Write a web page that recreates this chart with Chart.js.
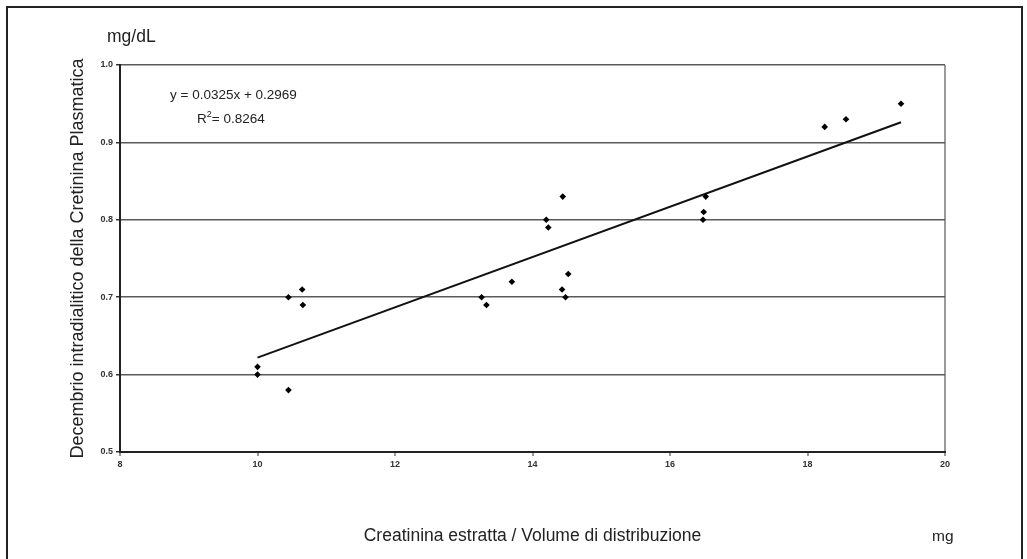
<!DOCTYPE html>
<html>
<head>
<meta charset="utf-8">
<script src="https://cdn.jsdelivr.net/npm/chart.js@4/dist/chart.umd.min.js"></script>
<style>
  html, body { margin: 0; padding: 0; background: #fff; }
  #wrap { position: relative; width: 1027px; height: 559px; overflow: hidden; background: #fff; }
  #frame { position: absolute; left: 6px; top: 6px; width: 1017px; height: 570px; border: 2px solid #222; box-sizing: border-box; }
  canvas { position: absolute; left: 0; top: 0; }
  .lbl { position: absolute; font-family: "Liberation Sans", Arial, sans-serif; color: #222; white-space: nowrap; }
</style>
</head>
<body>
<div id="wrap">
  <div id="frame"></div>
  <canvas id="c" width="1027" height="559"></canvas>
  <div class="lbl" style="left:107px; top:26px; font-size:17.5px;">mg/dL</div>
  <div class="lbl" style="left:170px; top:87px; font-size:13.5px;">y = 0.0325x + 0.2969</div>
  <div class="lbl" style="left:197px; top:109px; font-size:13.5px;">R<sup style="font-size:9px;">2</sup>= 0.8264</div>
  <div class="lbl" style="left:932px; top:527px; font-size:15.5px;">mg</div>
</div>
<script>
// Data
const xValues = [10.00, 10.00, 10.45, 10.65, 10.66, 10.45, 13.26, 13.33, 13.70, 14.20, 14.23, 14.44, 14.43, 14.48, 14.52, 16.48, 16.49, 16.52, 18.25, 18.56, 19.36];
const yValues = [0.61, 0.60, 0.70, 0.71, 0.69, 0.58, 0.70, 0.69, 0.72, 0.80, 0.79, 0.83, 0.71, 0.70, 0.73, 0.80, 0.81, 0.83, 0.92, 0.93, 0.95];
const trendX = [10.00, 19.36];
const trendY = [0.622, 0.926];
const xTicks = [8, 10, 12, 14, 16, 18, 20];
const yTicks = [0.5, 0.6, 0.7, 0.8, 0.9, 1.0];
const xTitle = 'Creatinina estratta / Volume di distribuzione';
const yTitle = 'Decembrio intradialitico della Cretinina Plasmatica';

const points = xValues.map((x, i) => ({ x: x, y: yValues[i] }));
const trend = trendX.map((x, i) => ({ x: x, y: trendY[i] }));

const tickFont = { family: '"Liberation Sans", Arial, sans-serif', size: 9, weight: 'bold' };

new Chart(document.getElementById('c'), {
  type: 'scatter',
  data: {
    datasets: [
      {
        label: 'Dati',
        data: points,
        backgroundColor: '#000',
        borderColor: '#000',
        pointStyle: 'rectRot',
        pointRadius: 3.3,
        pointHoverRadius: 3.3,
        borderWidth: 0
      },
      {
        label: 'Lineare',
        data: trend,
        type: 'line',
        showLine: true,
        borderColor: '#111',
        borderWidth: 2,
        pointRadius: 0,
        fill: false
      }
    ]
  },
  options: {
    responsive: false,
    animation: false,
    events: [],
    layout: { padding: { left: 0, right: 82, top: 65, bottom: 0 } },
    plugins: { legend: { display: false }, tooltip: { enabled: false } },
    scales: {
      x: {
        type: 'linear',
        min: 8, max: 20,
        afterBuildTicks: (s) => { s.ticks = xTicks.map(v => ({ value: v })); },
        afterFit: (s) => { s.height = 107; },
        ticks: { font: tickFont, color: '#333', padding: 3 },
        grid: {
          drawOnChartArea: true,
          color: (ctx) => (ctx.tick && ctx.tick.value === 20 ? '#9a9a9a' : 'rgba(0,0,0,0)'),
          lineWidth: 2,
          tickColor: '#333',
          tickLength: 4,
          tickWidth: 1
        },
        border: { display: true, color: '#222', width: 2 },
        title: {
          display: true,
          text: xTitle,
          color: '#222',
          font: { family: '"Liberation Sans", Arial, sans-serif', size: 17.5 },
          padding: { top: 0, bottom: 12.5 }
        }
      },
      y: {
        type: 'linear',
        min: 0.5, max: 1.0,
        afterBuildTicks: (s) => { s.ticks = yTicks.map(v => ({ value: v })); },
        afterFit: (s) => { s.width = 120; },
        ticks: { font: tickFont, color: '#333', padding: 3, callback: (v) => Number(v).toFixed(1) },
        grid: {
          color: '#5a5a5a',
          lineWidth: 1.5,
          tickColor: '#333',
          tickLength: 4
        },
        border: { display: true, color: '#222', width: 2 },
        title: {
          display: true,
          text: yTitle,
          color: '#222',
          font: { family: '"Liberation Sans", Arial, sans-serif', size: 18 },
          padding: { top: 67, bottom: 0 }
        }
      }
    }
  }
});
</script>
</body>
</html>
